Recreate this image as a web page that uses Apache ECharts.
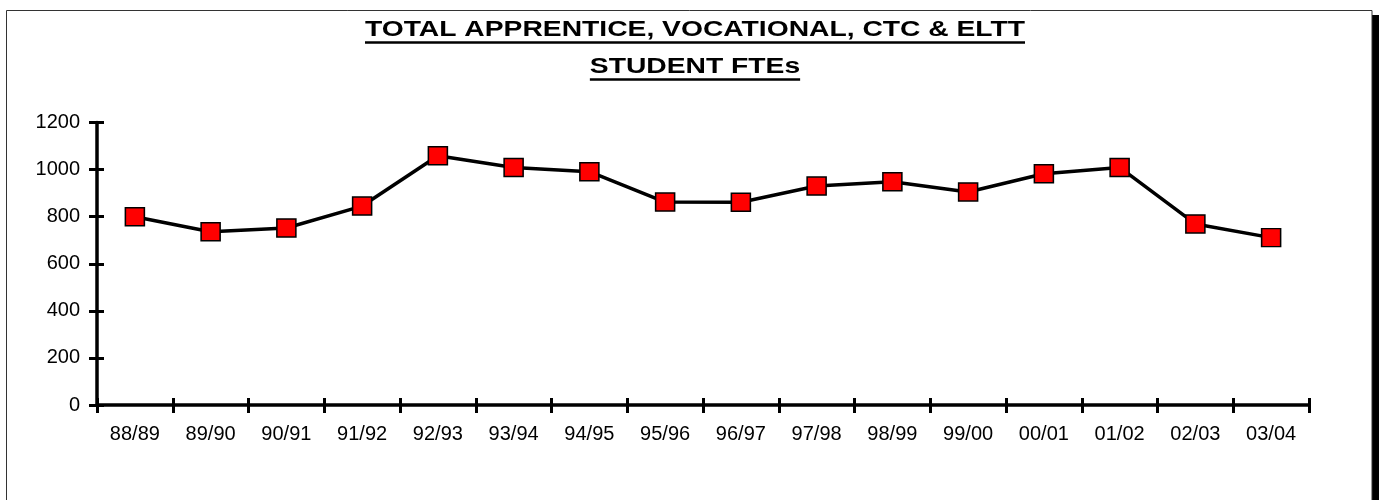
<!DOCTYPE html>
<html>
<head>
<meta charset="utf-8">
<script src="https://cdn.jsdelivr.net/npm/echarts@6/dist/echarts.min.js"></script>
<style>
  html, body { margin: 0; padding: 0; background: #fff; }
  #chart { width: 1382px; height: 500px; }
</style>
</head>
<body>
<div id="chart"></div>
<script>
// ---- data ----
var categories = ['88/89','89/90','90/91','91/92','92/93','93/94','94/95','95/96','96/97','97/98','98/99','99/00','00/01','01/02','02/03','03/04'];
var fteValues = [800, 736, 752, 845, 1059, 1009, 991, 862, 861, 930, 948, 905, 982, 1009, 769, 711];
var titleLines = ['TOTAL APPRENTICE, VOCATIONAL, CTC & ELTT', 'STUDENT FTEs'];
var yTicks = { min: 0, max: 1200, interval: 200 };

// ---- layout / style ----
var FONT = '"Liberation Sans", Arial, sans-serif';
var titleFont = 'bold 22px ' + FONT;
var titleCenterX = 695;
var titleLineY = [30, 66.5];
var underlineY = [42.5, 79.5];
var titleTargetWidth = 660;

var ctx = document.createElement('canvas').getContext('2d');
ctx.font = titleFont;
var w0 = ctx.measureText(titleLines[0]).width;
var sx = titleTargetWidth / w0;

var graphics = [
  { type: 'rect', z: -10, silent: true, shape: { x: 1372, y: 15, width: 7, height: 520 }, style: { fill: '#000' } },
  { type: 'rect', z: -9, silent: true, shape: { x: 6.5, y: 10.5, width: 1365.5, height: 520 }, style: { fill: '#fff', stroke: '#333', lineWidth: 1 } }
];
titleLines.forEach(function (t, i) {
  var w = ctx.measureText(t).width * sx;
  graphics.push({
    type: 'text', z: 10, silent: true,
    x: titleCenterX, y: titleLineY[i], scaleX: sx, scaleY: 1,
    style: { text: t, font: titleFont, fill: '#000', textAlign: 'center', textVerticalAlign: 'middle' }
  });
  graphics.push({
    type: 'line', z: 10, silent: true,
    shape: { x1: titleCenterX - w / 2, y1: underlineY[i], x2: titleCenterX + w / 2, y2: underlineY[i] },
    style: { stroke: '#000', lineWidth: 2.5 }
  });
});

var chart = echarts.init(document.getElementById('chart'), null, { renderer: 'canvas' });
var axisLineStyle = { color: '#000', width: 3.5 };
var tickStyle = { color: '#000', width: 3 };
var labelStyle = { color: '#000', fontFamily: FONT, fontSize: 20 };
var option = {
  animation: false,
  backgroundColor: 'transparent',
  graphic: graphics,
  grid: { left: 97, right: 73, top: 122.5, bottom: 95, containLabel: false },
  xAxis: [
    {
      type: 'category', data: categories, boundaryGap: true, position: 'bottom',
      axisLine: { show: true, lineStyle: axisLineStyle },
      axisTick: { show: true, alignWithLabel: false, inside: false, length: 8, lineStyle: tickStyle },
      axisLabel: Object.assign({ margin: 19, interval: 0 }, labelStyle),
      splitLine: { show: false }
    },
    {
      type: 'category', data: categories, boundaryGap: true, position: 'bottom', offset: 0,
      axisLine: { show: false },
      axisTick: { show: true, inside: true, length: 7, lineStyle: tickStyle },
      axisLabel: { show: false },
      splitLine: { show: false }
    }
  ],
  yAxis: [
    {
      type: 'value', min: yTicks.min, max: yTicks.max, interval: yTicks.interval, position: 'left',
      axisLine: { show: true, lineStyle: axisLineStyle },
      axisTick: { show: true, inside: false, length: 8, lineStyle: tickStyle },
      axisLabel: Object.assign({ margin: 17, formatter: function (v) { return String(v); } }, labelStyle),
      splitLine: { show: false }
    },
    {
      type: 'value', min: yTicks.min, max: yTicks.max, interval: yTicks.interval, position: 'left', offset: 0,
      axisLine: { show: false },
      axisTick: { show: true, inside: true, length: 7, lineStyle: tickStyle },
      axisLabel: { show: false },
      splitLine: { show: false }
    }
  ],
  series: [{
    type: 'line',
    data: fteValues,
    xAxisIndex: 0, yAxisIndex: 0,
    symbol: 'rect',
    symbolSize: [19, 18],
    showAllSymbol: true,
    lineStyle: { color: '#000', width: 3.5 },
    itemStyle: { color: '#ff0000', borderColor: '#000', borderWidth: 1.5 },
    z: 5
  }]
};
chart.setOption(option);
</script>
</body>
</html>
